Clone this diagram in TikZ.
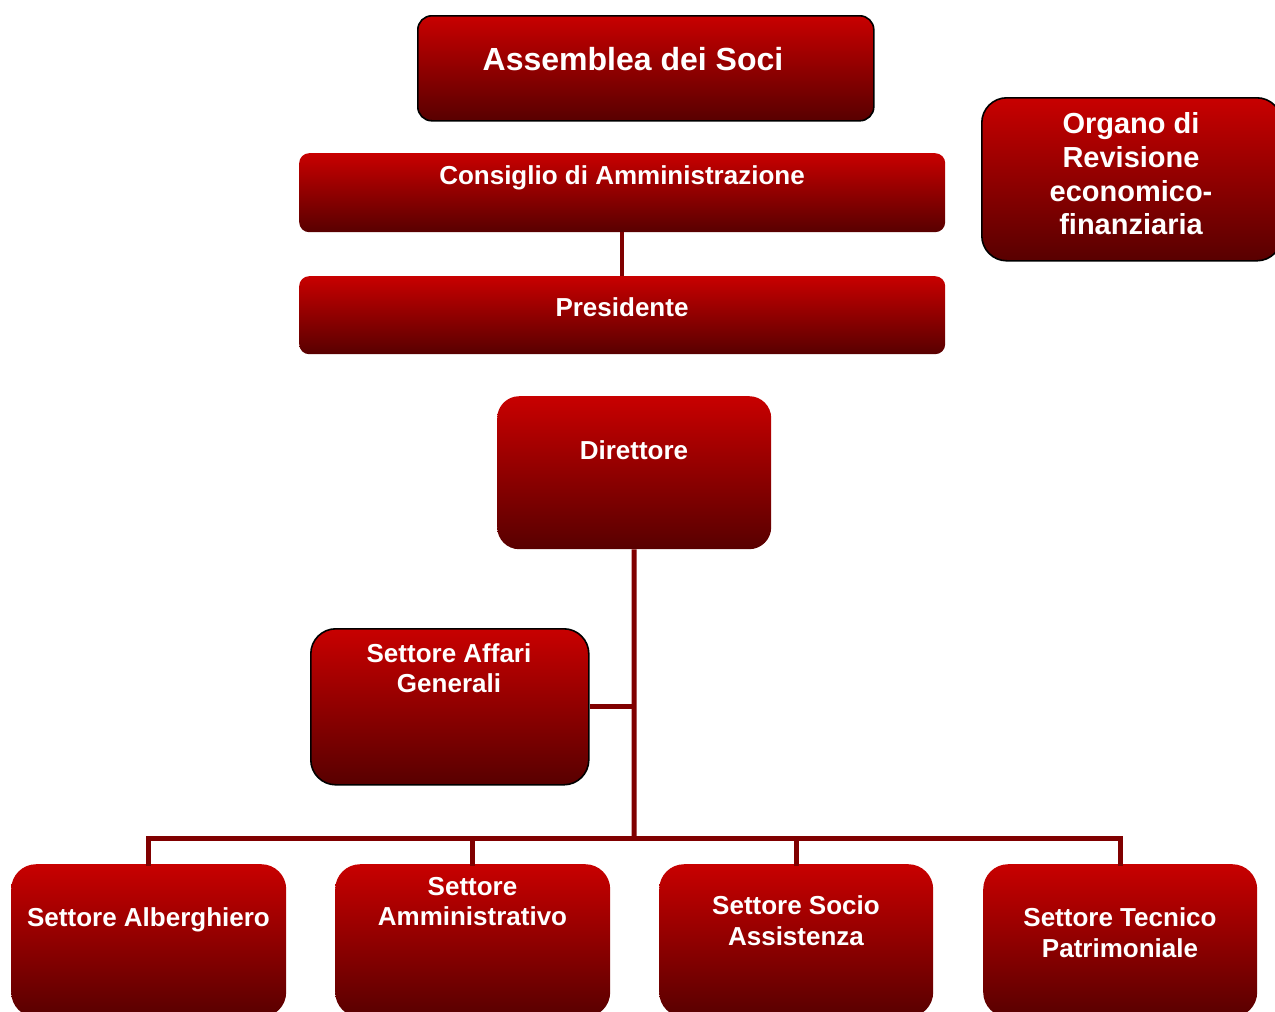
\documentclass[tikz,border=0pt]{standalone}
\usepackage{fontspec}
\setmainfont{Liberation Sans}
\definecolor{redtop}{RGB}{200,0,0}
\definecolor{redbot}{RGB}{88,0,0}
\definecolor{linkred}{RGB}{128,0,0}
\begin{document}
\begin{tikzpicture}[x=1pt,y=-1pt,
  box/.style={rectangle, anchor=north west, inner sep=0pt,
    top color=redtop, bottom color=redbot, draw=none},
  framed/.style={draw=black, line width=1.6pt},
  lbl/.style={anchor=north, inner sep=0pt, text=white, align=center,
    font=\bfseries\fontsize{26pt}{30pt}\selectfont},
  link/.style={draw=linkred, line width=5pt}]
\useasboundingbox (0,0) rectangle (1275,1012);
\clip (0,0) rectangle (1275,1012);

% upper governing bodies
\node[box, framed, rounded corners=14pt, minimum width=456pt, minimum height=105pt] (ass) at (417,15) {};
\node[lbl, font=\bfseries\fontsize{32pt}{36pt}\selectfont] (assT) at (633,47) {Assemblea dei Soci};

\node[box, rounded corners=10pt, minimum width=646pt, minimum height=79pt] (cda) at (299,153) {};
\node[lbl] (cdaT) at (622,165) {Consiglio di Amministrazione};

\node[box, rounded corners=10pt, minimum width=646pt, minimum height=78pt] (pres) at (299,276) {};
\node[lbl] (presT) at (622,297) {Presidente};

\node[box, framed, rounded corners=25pt, minimum width=300pt, minimum height=163pt] (rev) at (981,97) {};
\node[lbl, font=\bfseries\fontsize{29pt}{33.7pt}\selectfont] (revT) at (1131,112.5) {Organo di\\Revisione\\economico-\\finanziaria};

% management
\node[box, rounded corners=22pt, minimum width=274pt, minimum height=153pt] (dir) at (497,396) {};
\node[lbl] (dirT) at (634,440) {Direttore};

\node[box, framed, rounded corners=25pt, minimum width=278pt, minimum height=156pt] (aff) at (310,628) {};
\node[lbl] (affT) at (449,643) {Settore Affari\\Generali};

% operating sectors
\node[box, rounded corners=25pt, minimum width=275pt, minimum height=153pt] (s1) at (11,864) {};
\node[lbl] (s1T) at (148.5,907) {Settore Alberghiero};

\node[box, rounded corners=25pt, minimum width=275pt, minimum height=153pt] (s2) at (335,864) {};
\node[lbl] (s2T) at (472.5,877) {Settore\\Amministrativo};

\node[box, rounded corners=25pt, minimum width=274pt, minimum height=153pt] (s3) at (659,864) {};
\node[lbl, font=\bfseries\fontsize{26pt}{31pt}\selectfont] (s3T) at (796,895.5) {Settore Socio\\Assistenza};

\node[box, rounded corners=25pt, minimum width=274pt, minimum height=153pt] (s4) at (983,864) {};
\node[lbl, font=\bfseries\fontsize{26pt}{31pt}\selectfont] (s4T) at (1120,907.5) {Settore Tecnico\\Patrimoniale};

% connectors
\draw[link, line width=4pt] (cda.south) -- (pres.north);
\coordinate (bus) at (634,838);
\draw[link] (dir.south) -- (bus);
\draw[link] (aff.east) -- (aff.east -| dir.south);
\draw[link] ([xshift=-2.5pt]s1.north |- bus) -- ([xshift=2.5pt]s4.north |- bus);
\foreach \s in {s1,s2,s3,s4}
  \draw[link] (\s.north |- bus) -- ([yshift=-2pt]\s.north);
\end{tikzpicture}
\end{document}
